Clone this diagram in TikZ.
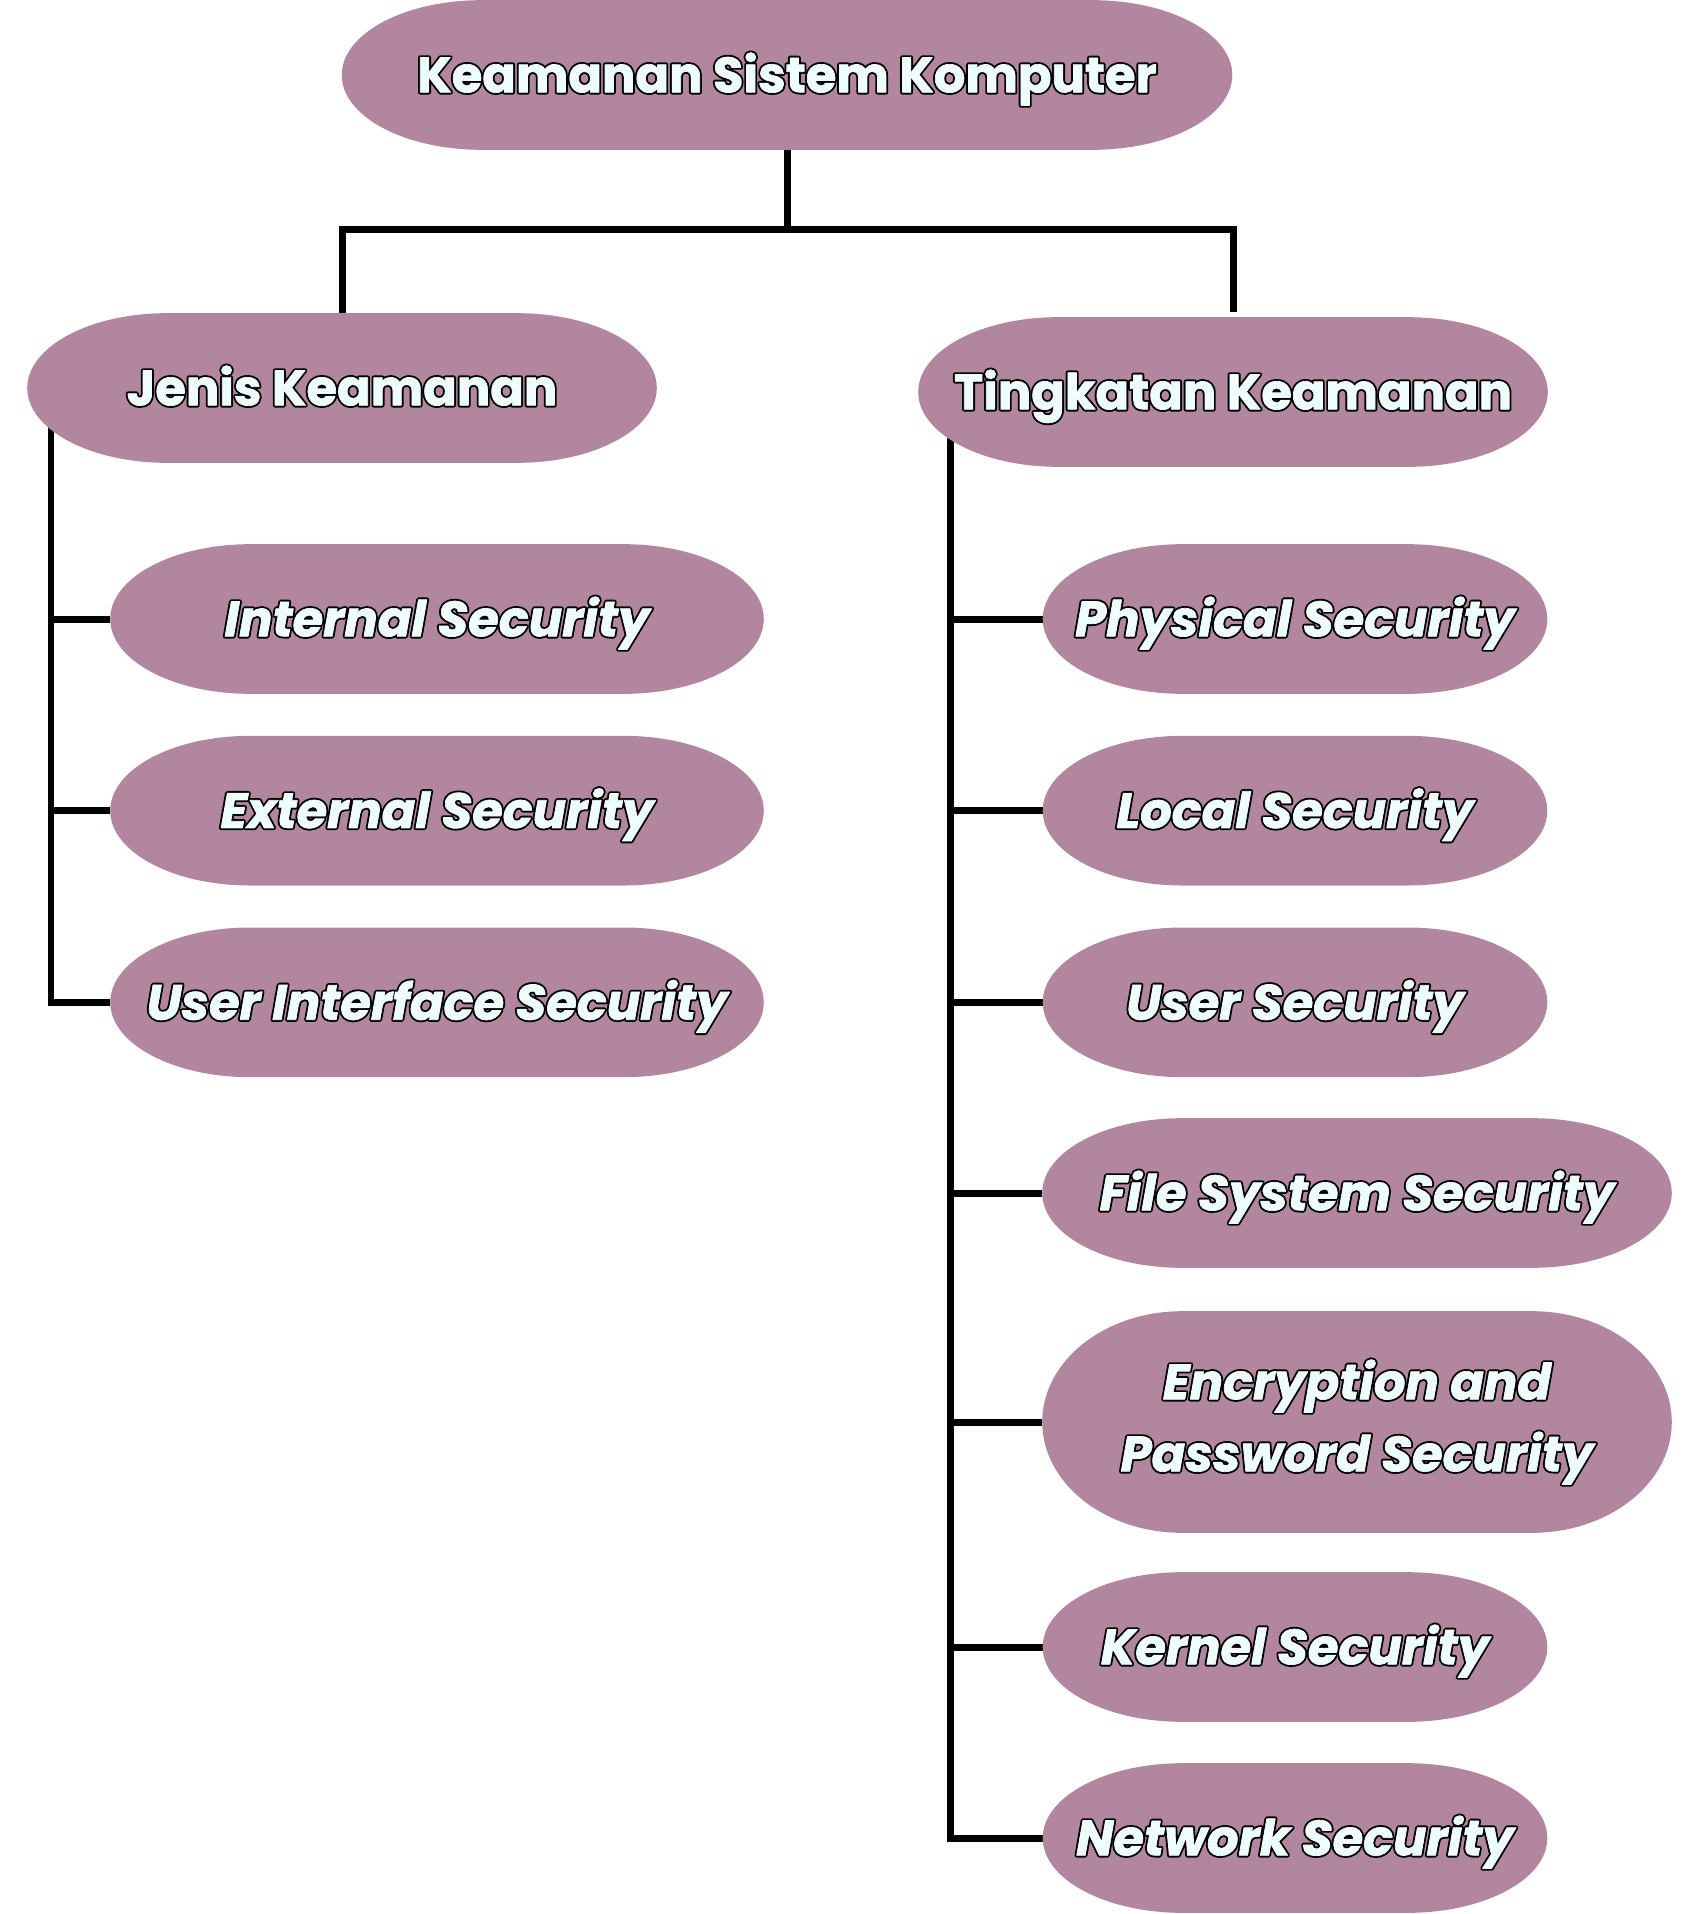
\documentclass[tikz,border=0pt]{standalone}
\usepackage{fontspec}
\setmainfont{Poppins}
\usetikzlibrary{calc}
\usetikzlibrary{positioning}
\definecolor{mauve}{HTML}{B2869F}
\definecolor{frost}{HTML}{EEFCFC}
\pgfdeclarelayer{wires}
\pgfdeclarelayer{pills}
\pgfsetlayers{wires,pills,main}
% thick black stroked copy under slightly emboldened light letters
\newcommand{\outlined}[1]{\special{pdf:code 1 j}%
  \rlap{\addfontfeature{FakeBold=9}\color{black}#1}%
  {\addfontfeature{FakeBold=1.5}\color{frost}#1}}
% pill shape behind a named node
\newcommand{\pill}[2][2.8cm]{%
  \fill[mauve] let \p1=(#2.north east), \p2=(#2.south west), \n1={(\y1-\y2)/2} in
    (\x1-#1,\y1) arc[start angle=90,end angle=-90,x radius=#1,y radius=\n1]
    -- (\x2+#1,\y2) arc[start angle=270,end angle=90,x radius=#1,y radius=\n1]
    -- cycle;}
\tikzset{
    basebox/.style={
           inner sep=0pt,
           minimum height=2.98cm,
           align=center,
           font=\fontsize{28.2pt}{41pt}\selectfont\bfseries,
           },
}
\tikzset{
    headbox/.style={
           basebox,
           text height=19.7pt, text depth=0pt,
           },
}
\tikzset{
    itembox/.style={
           headbox,
           font=\fontsize{28.2pt}{41pt}\selectfont\bfseries\itshape,
           },
}
\tikzset{
    wire/.style={
           draw=black,
           line width=0.14cm,
           },
}

\begin{document}
\begin{tikzpicture}[x=0.02cm,y=-0.02cm]
\useasboundingbox (0,0) rectangle (1698,1914);
\node[headbox,minimum width=17.8cm](root) at (787,75){\outlined{Keamanan Sistem Komputer}};
\node[headbox,minimum width=12.58cm](jenis) at (342,388){\outlined{Jenis Keamanan}};
\node[headbox,minimum width=12.58cm](tingkat) at (1233,392){\outlined{Tingkatan Keamanan}};
% jenis keamanan
\node[itembox,minimum width=13.06cm](internal) at (437,619){\outlined{Internal Security}};
\node[itembox,minimum width=13.06cm,below=0.84cm of internal](external){\outlined{External Security}};
\node[itembox,minimum width=13.06cm,below=0.84cm of external](uisec){\outlined{User Interface Security}};
% tingkatan keamanan
\node[itembox,minimum width=10.08cm](physical) at (1295,619){\outlined{Physical Security}};
\node[itembox,minimum width=10.08cm,below=0.84cm of physical](local){\outlined{Local Security}};
\node[itembox,minimum width=10.08cm,below=0.84cm of local](user){\outlined{User Security}};
\node[itembox,minimum width=12.58cm](filesys) at (1357,1193){\outlined{File System Security}};
\node[basebox,font=\fontsize{28.2pt}{41pt}\selectfont\bfseries\itshape,minimum width=12.58cm,minimum height=4.42cm](encrypt) at (1357,1422){\outlined{Encryption and}\\\outlined{Password Security}};
\node[itembox,minimum width=10.08cm](kernel) at (1295,1647){\outlined{Kernel Security}};
\node[itembox,minimum width=10.08cm](network) at (1295,1838){\outlined{Network Security}};

\begin{pgfonlayer}{pills}
\foreach \nm in {root,jenis,tingkat,internal,external,uisec,physical,local,user,filesys,encrypt,kernel,network}
    \pill{\nm};
\end{pgfonlayer}

\begin{pgfonlayer}{wires}
\coordinate (split) at (787,229);
\coordinate (rhook) at (1233,229);
\coordinate (rend) at (1233,312);
\coordinate (ltop) at (51,400);
\coordinate (rtop) at (950,410);
\draw[wire] (root.south) -- (split);
\draw[wire] (jenis.north) |- (rhook) -- (rend);
\draw[wire] (ltop) |- (uisec.west);
\foreach \nm in {internal,external}
    \draw[wire] (\nm.west) -- (\nm.west -| ltop);
\draw[wire] (rtop) |- (network.west);
\foreach \nm in {physical,local,user,filesys,encrypt,kernel}
    \draw[wire] (\nm.west) -- (\nm.west -| rtop);
\end{pgfonlayer}
\end{tikzpicture}
\end{document}
